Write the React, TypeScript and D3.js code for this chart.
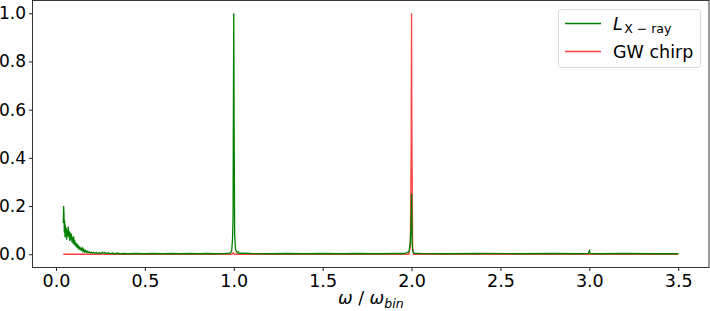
import * as d3 from "d3";
import { useRef, useEffect } from "react";

// L_x-ray power spectrum (frequency in units of omega_bin)
const xrayFreq = [
  0.041, 0.043, 0.045, 0.047, 0.049, 0.051, 0.053, 0.055, 0.058, 0.060,
  0.063, 0.066, 0.069, 0.072, 0.075, 0.078, 0.081, 0.084, 0.087, 0.090,
  0.093, 0.096, 0.099, 0.102, 0.105, 0.108, 0.111, 0.114, 0.117, 0.120,
  0.124, 0.128, 0.132, 0.136, 0.140, 0.144, 0.148, 0.152, 0.156, 0.160,
  0.165, 0.170, 0.175, 0.180, 0.186, 0.192, 0.198, 0.205, 0.212, 0.220,
  0.228, 0.236, 0.245, 0.254, 0.262, 0.268, 0.275, 0.285, 0.295, 0.305,
  0.318, 0.330, 0.345, 0.360, 0.380, 0.400, 0.450, 0.500, 0.550, 0.600,
  0.650, 0.700, 0.750, 0.800, 0.850, 0.900, 0.950, 0.970, 0.980, 0.988,
  0.993, 0.996, 0.998, 1.000, 1.002, 1.005, 1.010, 1.015, 1.020, 1.025,
  1.030, 1.040, 1.100, 1.200, 1.300, 1.400, 1.500, 1.600, 1.700, 1.800,
  1.900, 1.960, 1.985, 1.993, 1.997, 2.000, 2.003, 2.007, 2.015, 2.050,
  2.200, 2.400, 2.600, 2.800, 2.950, 2.995, 3.000, 3.005, 3.050, 3.200,
  3.350, 3.500,
];
const xrayPower = [
  0.130, 0.200, 0.170, 0.090, 0.140, 0.070, 0.120, 0.080, 0.110, 0.060,
  0.100, 0.075, 0.115, 0.070, 0.095, 0.055, 0.090, 0.060, 0.085, 0.050,
  0.070, 0.045, 0.075, 0.040, 0.060, 0.035, 0.050, 0.030, 0.045, 0.025,
  0.040, 0.020, 0.033, 0.017, 0.028, 0.014, 0.024, 0.012, 0.020, 0.010,
  0.016, 0.008, 0.013, 0.007, 0.011, 0.005, 0.009, 0.004, 0.008, 0.004,
  0.007, 0.003, 0.006, 0.003, 0.009, 0.004, 0.007, 0.003, 0.006, 0.002,
  0.005, 0.002, 0.004, 0.002, 0.003, 0.002, 0.003, 0.002, 0.003, 0.002,
  0.003, 0.002, 0.003, 0.002, 0.003, 0.002, 0.003, 0.004, 0.006, 0.012,
  0.060, 0.150, 0.600, 1.000, 0.550, 0.080, 0.020, 0.012, 0.006, 0.010,
  0.004, 0.005, 0.003, 0.002, 0.003, 0.002, 0.003, 0.002, 0.003, 0.002,
  0.003, 0.003, 0.010, 0.050, 0.120, 0.250, 0.050, 0.010, 0.004, 0.003,
  0.002, 0.003, 0.002, 0.003, 0.002, 0.004, 0.015, 0.003, 0.002, 0.003,
  0.002, 0.002,
];

// GW chirp spectrum
const chirpFreq = [0.041, 0.990, 0.998, 1.004, 1.985, 1.993, 1.998, 2.000, 2.002, 2.006, 2.012, 3.500];
const chirpPower = [0.000, 0.000, 0.006, 0.000, 0.000, 0.030, 0.450, 1.000, 0.500, 0.030, 0.000, 0.000];

const xTicks = [0, 0.5, 1, 1.5, 2, 2.5, 3, 3.5];
const yTicks = [0, 0.2, 0.4, 0.6, 0.8, 1.0];

const W = 710, H = 311;
const margin = { left: 32.5, right: 1, top: 0.5, bottom: 43.5 };
const FONT = "DejaVu Sans, sans-serif";
const FS = 17.5;

const App = () => {
    const ref = useRef(null);

    useEffect(() => {
        const svg = d3.select(ref.current);
        svg.selectAll("*").remove();

        const x = d3.scaleLinear().domain([-0.132, 3.673]).range([margin.left, W - margin.right]);
        const y = d3.scaleLinear().domain([-0.055, 1.053]).range([H - margin.bottom, margin.top]);

        const g = svg.append("g");

        const clip = svg.append("clipPath").attr("id", "plotclip");
        clip.append("rect")
            .attr("x", margin.left).attr("y", margin.top)
            .attr("width", W - margin.right - margin.left)
            .attr("height", H - margin.bottom - margin.top);

        const chirp = chirpFreq.map((f, i) => [x(f), y(chirpPower[i])] as [number, number]);
        const xray = xrayFreq.map((f, i) => [x(f), y(xrayPower[i])] as [number, number]);
        const path = d3.line();

        g.append("path")
         .attr("d", path(chirp))
         .attr("clip-path", "url(#plotclip)")
         .attr("fill", "none")
         .attr("stroke", "red")
         .attr("stroke-opacity", 0.75)
         .attr("stroke-width", 1.3);

        g.append("path")
         .attr("d", path(xray))
         .attr("clip-path", "url(#plotclip)")
         .attr("fill", "none")
         .attr("stroke", "green")
         .attr("stroke-width", 1.3);

        // frame
        g.append("rect")
         .attr("x", margin.left).attr("y", margin.top)
         .attr("width", W - margin.right - margin.left)
         .attr("height", H - margin.bottom - margin.top)
         .attr("fill", "none")
         .attr("stroke", "#222")
         .attr("stroke-width", 0.9);

        const xAxis = d3.axisBottom(x).tickValues(xTicks).tickFormat(d3.format(".1f")).tickSize(3.5).tickPadding(4);
        const xg = g.append("g")
         .attr("transform", `translate(0, ${H - margin.bottom})`)
         .call(xAxis);
        xg.select(".domain").remove();
        xg.selectAll("text").attr("font-size", FS).attr("font-family", FONT).attr("fill", "#000");
        xg.selectAll("line").attr("stroke", "#222");

        const yAxis = d3.axisLeft(y).tickValues(yTicks).tickFormat(d3.format(".1f")).tickSize(3.5).tickPadding(3);
        const yg = g.append("g")
         .attr("transform", `translate(${margin.left}, 0)`)
         .call(yAxis);
        yg.select(".domain").remove();
        yg.selectAll("text").attr("font-size", 17).attr("font-family", FONT).attr("fill", "#000");
        yg.selectAll("line").attr("stroke", "#222");

        // x label: omega / omega_bin
        const xl = g.append("text")
         .attr("x", (margin.left + W - margin.right) / 2)
         .attr("y", 304)
         .attr("text-anchor", "middle")
         .attr("font-family", FONT)
         .attr("font-size", FS);
        xl.append("tspan").attr("font-style", "italic").text("ω");
        xl.append("tspan").text(" / ");
        xl.append("tspan").attr("font-style", "italic").text("ω");
        xl.append("tspan").attr("font-style", "italic").attr("font-size", 12.5).attr("dy", 3.5).text("bin");

        // legend
        const lg = g.append("g");
        lg.append("rect")
          .attr("x", 558.5).attr("y", 9.5)
          .attr("width", 142).attr("height", 58)
          .attr("rx", 3)
          .attr("fill", "white")
          .attr("fill-opacity", 0.8)
          .attr("stroke", "#d9d9d9");
        lg.append("line")
          .attr("x1", 565).attr("x2", 601).attr("y1", 23.5).attr("y2", 23.5)
          .attr("stroke", "green").attr("stroke-width", 1.3);
        lg.append("line")
          .attr("x1", 565).attr("x2", 601).attr("y1", 51.5).attr("y2", 51.5)
          .attr("stroke", "red").attr("stroke-opacity", 0.75).attr("stroke-width", 1.3);
        const t1 = lg.append("text")
          .attr("x", 613).attr("y", 29.5)
          .attr("font-family", FONT).attr("font-size", FS);
        t1.append("tspan").attr("font-style", "italic").text("L");
        t1.append("tspan").attr("font-size", 12.5).attr("dx", 1.5).attr("dy", 3.5).text("X − ray");
        lg.append("text")
          .attr("x", 613).attr("y", 57.5)
          .attr("font-family", FONT).attr("font-size", FS)
          .text("GW chirp");
    }, []);

    return (
        <svg ref={ref} width={W} height={H}
             style={{ position: "absolute", left: 0, top: 0, background: "white" }}></svg>
    );
};

export default App;
